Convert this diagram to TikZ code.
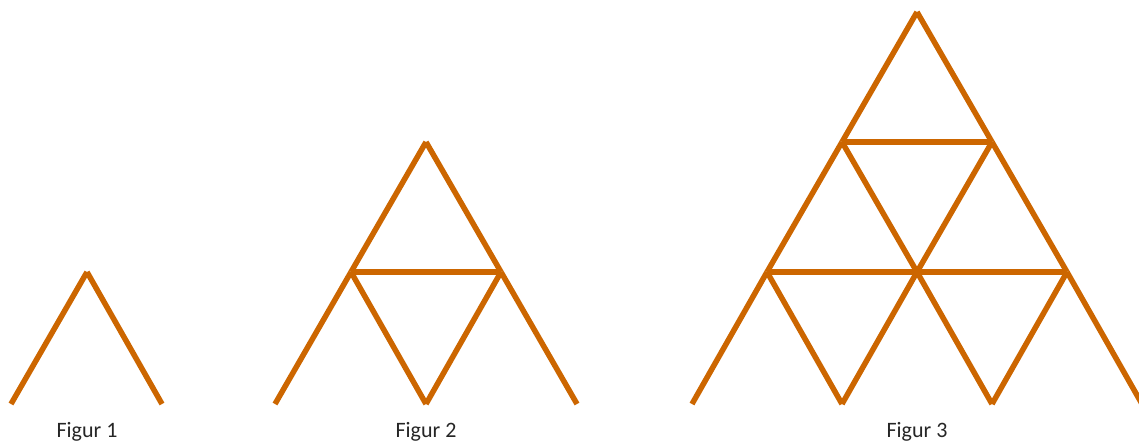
\documentclass[tikz,border=0pt]{standalone}
\usepackage{fontspec}
\setmainfont{Carlito}
\usepackage{tikz}
\definecolor{stick}{HTML}{CC6600}

\begin{document}
\begin{tikzpicture}[x=1pt, y=-1pt,
    stick/.style={draw=stick, line width=5.5pt, line cap=butt},
    caption/.style={anchor=base, font=\fontsize{22}{26}\selectfont, text=black!85}]
    \clip (0, 0) rectangle (1139, 441);

    % Figur 1
    \coordinate (a1) at (87, 272);
    \coordinate (l1) at (11, 404);
    \coordinate (r1) at (162, 404);
    \draw[stick] (a1) -- (l1);
    \draw[stick] (a1) -- (r1);
    \node[caption] (f1) at (87, 437) {Figur 1};

    % Figur 2
    \coordinate (a2) at (426, 142);
    \coordinate (p2) at (351, 272);
    \coordinate (q2) at (501, 272);
    \coordinate (l2) at (275, 404);
    \coordinate (m2) at (426, 404);
    \coordinate (r2) at (577, 404);
    \draw[stick] (a2) -- (p2);
    \draw[stick] (p2) -- (l2);
    \draw[stick] (a2) -- (q2);
    \draw[stick] (q2) -- (r2);
    \draw[stick] (p2) -- (q2);
    \draw[stick] (p2) -- (m2);
    \draw[stick] (q2) -- (m2);
    \node[caption] (f2) at (426, 437) {Figur 2};

    % Figur 3
    \coordinate (a3) at (917, 12);
    \coordinate (b3) at (842, 142);
    \coordinate (c3) at (992, 142);
    \coordinate (d3) at (767, 272);
    \coordinate (e3) at (917, 272);
    \coordinate (g3) at (1067, 272);
    \coordinate (l3) at (692, 404);
    \coordinate (h3) at (842, 404);
    \coordinate (i3) at (992, 404);
    \coordinate (r3) at (1142, 404);
    \draw[stick] (a3) -- (b3);
    \draw[stick] (b3) -- (d3);
    \draw[stick] (d3) -- (l3);
    \draw[stick] (a3) -- (c3);
    \draw[stick] (c3) -- (g3);
    \draw[stick] (g3) -- (r3);
    \draw[stick] (b3) -- (c3);
    \draw[stick] (d3) -- (e3);
    \draw[stick] (e3) -- (g3);
    \draw[stick] (b3) -- (e3);
    \draw[stick] (c3) -- (e3);
    \draw[stick] (d3) -- (h3);
    \draw[stick] (e3) -- (h3);
    \draw[stick] (e3) -- (i3);
    \draw[stick] (g3) -- (i3);
    \node[caption] (f3) at (917, 437) {Figur 3};
\end{tikzpicture}
\end{document}
